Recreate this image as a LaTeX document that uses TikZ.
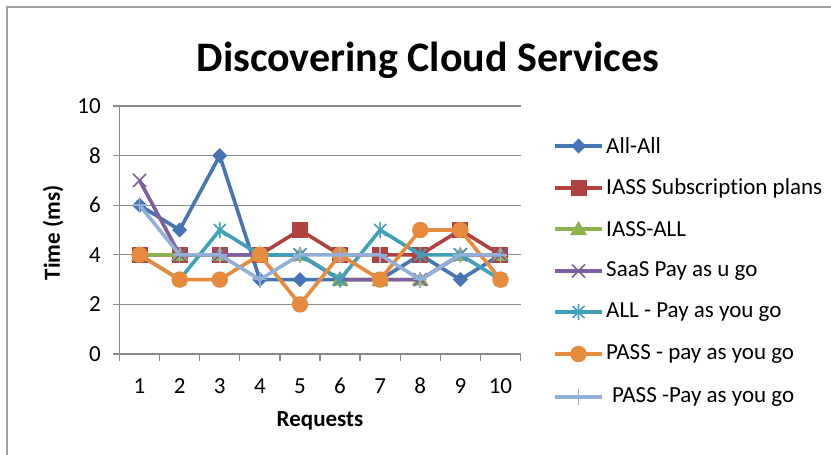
\documentclass[tikz,border=0pt]{standalone}
\usepackage{fontspec}
\setmainfont{Carlito}[Ligatures={NoCommon},RawFeature={-liga;-clig;-dlig}]
\definecolor{cA}{HTML}{4674B4}
\definecolor{cB}{HTML}{B0413E}
\definecolor{cC}{HTML}{8FB04E}
\definecolor{cD}{HTML}{7D5F9E}
\definecolor{cE}{HTML}{40A0B9}
\definecolor{cF}{HTML}{E68A3E}
\definecolor{cG}{HTML}{93AFD8}
\definecolor{gridc}{HTML}{8C8C8C}
\definecolor{framec}{HTML}{A0A0A0}
\tikzset{
  serline/.style={line width=3.6pt,line join=round},
  gridline/.style={gridc,line width=1.3pt},
  txt/.style={font=\fontsize{23}{27}\selectfont,inner sep=0pt},
  pics/mkdia/.style={code={\fill (0,-7.5)--(7.5,0)--(0,7.5)--(-7.5,0)--cycle;}},
  pics/mksq/.style={code={\fill (-8,-8) rectangle (8,8);}},
  pics/mktri/.style={code={\fill (0,-8)--(8.5,6)--(-8.5,6)--cycle;}},
  pics/mkx/.style={code={\draw[line width=1.6pt] (-6.5,-6.5)--(6.5,6.5) (-6.5,6.5)--(6.5,-6.5);}},
  pics/mkstar/.style={code={\draw[line width=1.6pt] (-6,-6)--(6,6) (-6,6)--(6,-6) (0,-8)--(0,8);}},
  pics/mkcirc/.style={code={\fill (0,0) circle (8.2);}},
  pics/mkplus/.style={code={\draw[line width=1.6pt] (-7,0)--(7,0) (0,-8)--(0,8);}},
}
% one data series: name prefix, colour, ten values, marker pic
\newcommand\chartseries[4]{%
  \foreach \v [count=\i] in {#3} {\coordinate (#1\i) at ({119.5+40.1*(\i-0.5)},{354-24.8*\v});}
  \draw[serline,#2] (#11) \foreach \i in {2,...,10}{ -- (#1\i)};
  \foreach \i in {1,...,10} {\pic[#2] at (#1\i) {#4};}
}
% one legend entry: name prefix, colour, marker pic, y position, text x, label
\newcommand\legendentry[6]{%
  \coordinate (#1a) at (555,#4);
  \coordinate (#1b) at (602,#4);
  \draw[serline,#2] (#1a) -- (#1b);
  \pic[#2] at ($(#1a)!0.5!(#1b)$) {#3};
  \node[txt,anchor=west] (#1t) at (#5,#4) {#6};
}
\usetikzlibrary{calc}
\begin{document}
\begin{tikzpicture}[x=1pt,y=-1pt]
\path[use as bounding box,fill=white] (0,0) rectangle (831,455);
% chart frame
\draw[framec,line width=1.2pt] (7,460) -- (7,7) -- (836,7);
% title
\node[font=\fontsize{42}{48}\selectfont\bfseries,anchor=base,inner sep=0pt] (title) at (428,71) {Discovering Cloud Services};
% gridlines and value axis
\foreach \g in {2,4,...,10} {\draw[gridline] (119.5,{354-24.8*\g}) -- (520.5,{354-24.8*\g});}
\foreach \g in {0,2,...,10} {
  \draw[gridline] (113,{354-24.8*\g}) -- (119.5,{354-24.8*\g});
  \node[txt,anchor=east] (yl\g) at (101,{354-24.8*\g}) {\g};
}
\draw[gridline] (119.5,106) -- (119.5,354);
% category axis
\draw[gridline] (119.5,354) -- (520.5,354);
\foreach \k in {0,...,10} {\draw[gridline] ({119.5+40.1*\k},354) -- ({119.5+40.1*\k},361);}
\foreach \k in {1,...,10} {\node[txt] (xl\k) at ({119.5+40.1*(\k-0.5)},386) {\k};}
\node[txt,font=\fontsize{23}{27}\selectfont\bfseries] (xtitle) at (320,421) {Requests};
\node[txt,font=\fontsize{23}{27}\selectfont\bfseries,rotate=90] (ytitle) at (53,233) {Time (ms)};
% data series
\chartseries{A}{cA}{6,5,8,3,3,3,3,4,3,4}{mkdia}
\chartseries{B}{cB}{4,4,4,4,5,4,4,4,5,4}{mksq}
\chartseries{C}{cC}{4,4,4,4,4,3,3,3,4,4}{mktri}
\chartseries{D}{cD}{7,4,4,4,4,3,3,3,4,4}{mkx}
\chartseries{E}{cE}{4,3,5,4,4,3,5,4,4,3}{mkstar}
\chartseries{F}{cF}{4,3,3,4,2,4,3,5,5,3}{mkcirc}
\chartseries{G}{cG}{6,4,4,3,4,4,4,3,4,4}{mkplus}
% legend
\legendentry{LA}{cA}{mkdia}{146}{606}{All-All}
\legendentry{LB}{cB}{mksq}{188}{606}{IASS Subscrip\kern0pt tion plans}
\legendentry{LC}{cC}{mktri}{229}{606}{IASS-ALL}
\legendentry{LD}{cD}{mkx}{271}{606}{SaaS Pay as u go}
\legendentry{LE}{cE}{mkstar}{312}{606}{ALL - Pay as you go}
\legendentry{LF}{cF}{mkcirc}{354}{606}{PASS - pay as you go}
\legendentry{LG}{cG}{mkplus}{397}{612}{PASS -Pay as you go}
\end{tikzpicture}
\end{document}
